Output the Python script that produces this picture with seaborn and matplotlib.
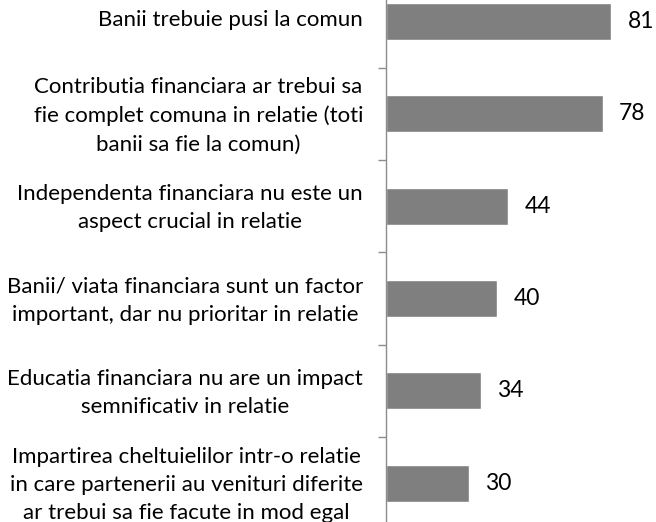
import matplotlib
matplotlib.use("Agg")
import matplotlib.pyplot as plt
import matplotlib.transforms as mtransforms
from matplotlib.ticker import FixedLocator
import seaborn as sns
import pandas as pd

# Survey statements and share of respondents who agree (%)
statements = [
    "Banii trebuie pusi la comun",
    "Contributia financiara ar trebui sa\nfie complet comuna in relatie (toti\nbanii sa fie la comun)",
    "Independenta financiara nu este un\naspect crucial in relatie",
    "Banii/ viata financiara sunt un factor\nimportant, dar nu prioritar in relatie",
    "Educatia financiara nu are un impact\nsemnificativ in relatie",
    "Impartirea cheltuielilor intr-o relatie\nin care partenerii au venituri diferite\nar trebui sa fie facute in mod egal",
]
agree_pct = [81, 78, 44, 40, 34, 30]

df = pd.DataFrame({"statement": statements, "pct": agree_pct})

sns.set_theme(style="white")
plt.rcParams["font.family"] = ["Lato", "DejaVu Sans"]

fig = plt.figure(figsize=(6.56, 5.22), dpi=100)
ax = fig.add_axes([0.5884, -0.014, 0.4116, 1.061])

sns.barplot(data=df, x="pct", y="statement", orient="h", color="#7f7f7f",
            saturation=1, width=0.4, ax=ax)

ax.set_xlim(0, 97)
ax.set_ylim(len(statements) - 0.5, -0.5)
ax.set_xlabel("")
ax.set_ylabel("")
ax.set_xticks([])

for side in ("top", "right", "bottom"):
    ax.spines[side].set_visible(False)
ax.spines["left"].set_color("#8c8c8c")
ax.spines["left"].set_linewidth(1.0)

# Category boundaries get short tick marks; labels sit between them
ax.yaxis.set_minor_locator(FixedLocator([i + 0.5 for i in range(-1, len(statements))]))
ax.tick_params(axis="y", which="minor", left=True, length=5.5, width=1.0,
               color="#8c8c8c", direction="out")
ax.tick_params(axis="y", which="major", length=0, pad=16.5, labelsize=16,
               labelcolor="#000000")
lift = mtransforms.ScaledTranslation(0, 4 / 100, fig.dpi_scale_trans)
for lbl in ax.get_yticklabels():
    lbl.set_multialignment("center")
    lbl.set_linespacing(1.5)
    lbl.set_transform(lbl.get_transform() + lift)

for container in ax.containers:
    ax.bar_label(container, labels=[str(v) for v in agree_pct], padding=11.5,
                 fontsize=16.5, color="#000000")

fig.savefig("out.png", dpi=100)
